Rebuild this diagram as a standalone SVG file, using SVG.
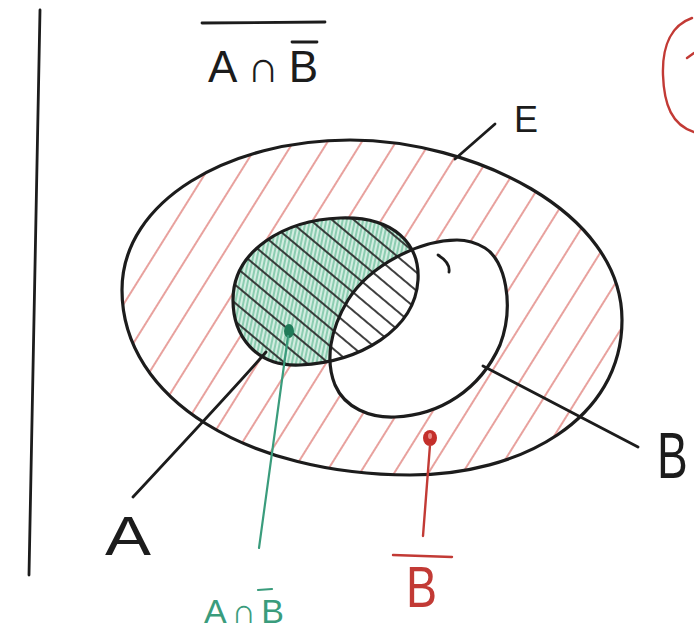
<svg xmlns="http://www.w3.org/2000/svg" width="694" height="631" viewBox="0 0 694 631">
<style>
.outline{fill:none;stroke:#1c1c1c;stroke-width:3.2;stroke-linecap:round;stroke-linejoin:round}
.ink{fill:none;stroke:#1c1c1c;stroke-width:2.8;stroke-linecap:round}
.red{fill:none;stroke:#c23a35;stroke-width:2.4;stroke-linecap:round}
.green{fill:none;stroke:#3a9c7c;stroke-width:2.2;stroke-linecap:round}
.lbl{font-family:"Liberation Sans","DejaVu Sans",sans-serif}
</style>
<defs>
<path id="pE" d="M122 290 C122 200 230 140 350 140 C470 140 622 210 622 320 C622 420 520 475 410 475 C250 475 122 400 122 290 Z"/>
<path id="pA" d="M233 300 C233 250 285 220 340 218 C395 216 420 245 418 280 C415 330 360 362 300 365 C255 367 233 335 233 300 Z"/>
<path id="pB" d="M457 240 C420 240 370 265 348 300 C330 330 325 360 335 385 C345 408 370 418 395 417 C440 415 480 390 500 345 C515 305 505 260 485 248 C475 242 465 240 457 240 Z"/>
<clipPath id="cEnotB"><path clip-rule="evenodd" d="M122 290 C122 200 230 140 350 140 C470 140 622 210 622 320 C622 420 520 475 410 475 C250 475 122 400 122 290 Z M457 240 C420 240 370 265 348 300 C330 330 325 360 335 385 C345 408 370 418 395 417 C440 415 480 390 500 345 C515 305 505 260 485 248 C475 242 465 240 457 240 Z"/></clipPath>
<clipPath id="cA"><use href="#pA"/></clipPath>
<clipPath id="cNotB"><path clip-rule="evenodd" d="M0 0 H694 V631 H0 Z M457 240 C420 240 370 265 348 300 C330 330 325 360 335 385 C345 408 370 418 395 417 C440 415 480 390 500 345 C515 305 505 260 485 248 C475 242 465 240 457 240 Z"/></clipPath>
<pattern id="hRed" width="29" height="29" patternUnits="userSpaceOnUse" patternTransform="rotate(32)">
<line x1="5" y1="0" x2="5" y2="29" stroke="#dc6f69" stroke-width="1.3"/>
</pattern>
<pattern id="hBlack" width="14" height="14" patternUnits="userSpaceOnUse" patternTransform="rotate(-50)">
<line x1="3" y1="0" x2="3" y2="14" stroke="#2a2a2a" stroke-width="1.8"/>
</pattern>
<pattern id="hGreen" width="4" height="4" patternUnits="userSpaceOnUse" patternTransform="rotate(12)">
<line x1="1" y1="0" x2="1" y2="4" stroke="#6dbf9c" stroke-width="1.4"/>
</pattern>
</defs>
<rect width="694" height="631" fill="#ffffff"/>

<g id="margin">
<path class="ink" d="M40 10 L29 575"/>
<path class="red" d="M692 18 C672 25 662 45 663 75 C664 105 672 125 694 132"/>
<path class="red" d="M687 58 L694 53"/>
</g>

<g id="title">
<line class="ink" x1="202" y1="23" x2="325" y2="22"/>
<line class="ink" x1="292" y1="42" x2="317" y2="42"/>
<text class="lbl" x="208" y="82" font-size="44" fill="#1c1c1c" textLength="110" lengthAdjust="spacing">A∩B</text>
</g>

<g id="E">
<rect width="694" height="631" fill="url(#hRed)" clip-path="url(#cEnotB)"/>
<use href="#pE" class="outline"/>
<text class="lbl" x="514" y="132" font-size="36" fill="#1c1c1c">E</text>
</g>

<g id="A">
<g clip-path="url(#cA)">
<rect width="694" height="631" fill="#d3ede1" clip-path="url(#cNotB)"/>
<rect width="694" height="631" fill="url(#hGreen)" clip-path="url(#cNotB)"/>
<rect width="694" height="631" fill="url(#hBlack)"/>
</g>
<use href="#pA" class="outline"/>
<text class="lbl" x="105" y="555" font-size="56" fill="#1c1c1c" textLength="46" lengthAdjust="spacingAndGlyphs">A</text>
</g>

<g id="B">
<use href="#pB" class="outline"/>
<path class="ink" d="M438 255 C446 260 450 266 449 272" stroke-width="1.6"/>
<text class="lbl" transform="translate(657 478) scale(0.72 1)" font-size="64" fill="#1c1c1c">B</text>
</g>

<g id="AnotB">
<ellipse cx="289" cy="331" rx="5" ry="7" fill="#1f7a58"/>
<line x1="258" y1="590" x2="272" y2="589" class="green"/>
<text class="lbl" x="204" y="623" font-size="34" fill="#3a9c7c" textLength="80" lengthAdjust="spacing">A∩B</text>
</g>

<g id="notB">
<ellipse cx="430" cy="438" rx="7" ry="8" fill="#c42f2b"/>
<ellipse cx="430" cy="436" rx="2" ry="3" fill="#e88a86"/>
<line x1="393" y1="555" x2="452" y2="557" class="red"/>
<text class="lbl" x="406" y="607" font-size="58" fill="#c23a35" textLength="31" lengthAdjust="spacingAndGlyphs">B</text>
</g>

<g id="connectors">
<line class="ink" x1="455" y1="159" x2="495" y2="124"/>
<path class="ink" d="M266 352 C240 382 200 425 133 497"/>
<line class="ink" x1="483" y1="366" x2="638" y2="447"/>
<line class="green" x1="288" y1="336" x2="259" y2="548"/>
<line class="red" x1="430" y1="445" x2="423" y2="536"/>
</g>
</svg>
